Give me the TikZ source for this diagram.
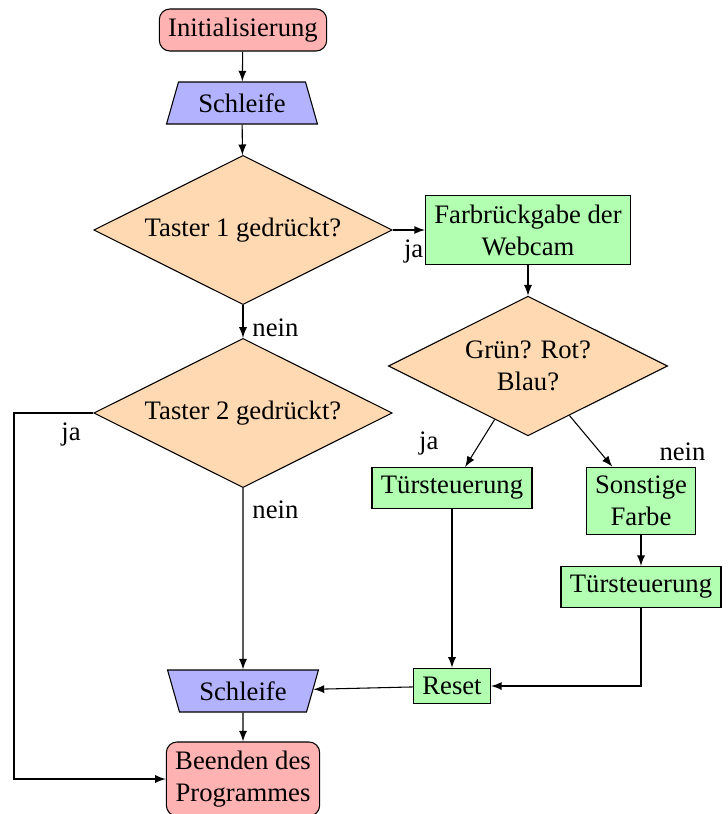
\documentclass[tikz,border=0pt]{standalone}
\usepackage{fontspec}
\setmainfont{Liberation Serif}
\usetikzlibrary{shapes.geometric, positioning, arrows}

\begin{document}
\begin{tikzpicture}[
        ->,
        >=latex,
        x=0.375pt,
        y=-0.375pt,
        terminal/.style={rectangle, rounded corners=4pt, draw, fill=red!30, align=center},
        schleifenbox/.style={trapezium, trapezium left angle=72, trapezium right angle=72,
            trapezium stretches body, minimum width=56.6pt, minimum height=15.75pt,
            draw, fill=blue!30},
        entscheidung/.style={diamond, aspect=2, draw, fill=orange!30, align=center},
        aktion/.style={rectangle, draw, fill=green!30, align=center}
    ]
    \useasboundingbox (0,0) rectangle (727,814);

    \node[terminal] (init) at (243,30) {Initialisierung};
    \node[schleifenbox] (schleife) at (242,103) {Schleife};
    \node[entscheidung] (taster1) at (243,230) {Taster 1 gedrückt?};
    \node[aktion] (farbe) at (528,230) {Farbrückgabe der\\Webcam};
    \node[entscheidung] (rgb) at (528,366) {Grün? Rot?\\Blau?};
    \node[entscheidung] (taster2) at (243,413) {Taster 2 gedrückt?};
    \node[aktion] (tuer1) at (452,488) {Türsteuerung};
    \node[aktion] (sonst) at (641,501) {Sonstige\\Farbe};
    \node[aktion] (tuer2) at (641,587) {Türsteuerung};
    \node[aktion] (reset) at (452,686) {Reset};
    \node[schleifenbox, shape border rotate=180] (schleife2) at (243,691) {Schleife};
    \node[terminal] (ende) at (243,779) {Beenden des\\Programmes};
    \coordinate (umweg) at (14,413);

    \draw (init) -- (schleife);
    \draw (schleife) -- (taster1);
    \draw (taster1) -- node[below, pos=0.65]{ja} (farbe);
    \draw (farbe) -- (rgb);
    \draw (taster1) -- node[right, pos=0.7]{nein} (taster2);
    \draw (taster2) -- node[below, pos=0.28]{ja} (umweg) |- (ende);
    \draw (taster2) -- node[right, pos=0.12]{nein} (schleife2);
    \draw (rgb) -- node[left, pos=0.5, xshift=-12pt]{ja} (tuer1);
    \draw (rgb) -- node[right, pos=0.7, xshift=19pt]{nein} (sonst);
    \draw (sonst) -- (tuer2);
    \draw (tuer1) -- (reset);
    \draw (tuer2) |- (reset);
    \draw (reset) -- (schleife2);
    \draw (schleife2) -- (ende);
\end{tikzpicture}
\end{document}
